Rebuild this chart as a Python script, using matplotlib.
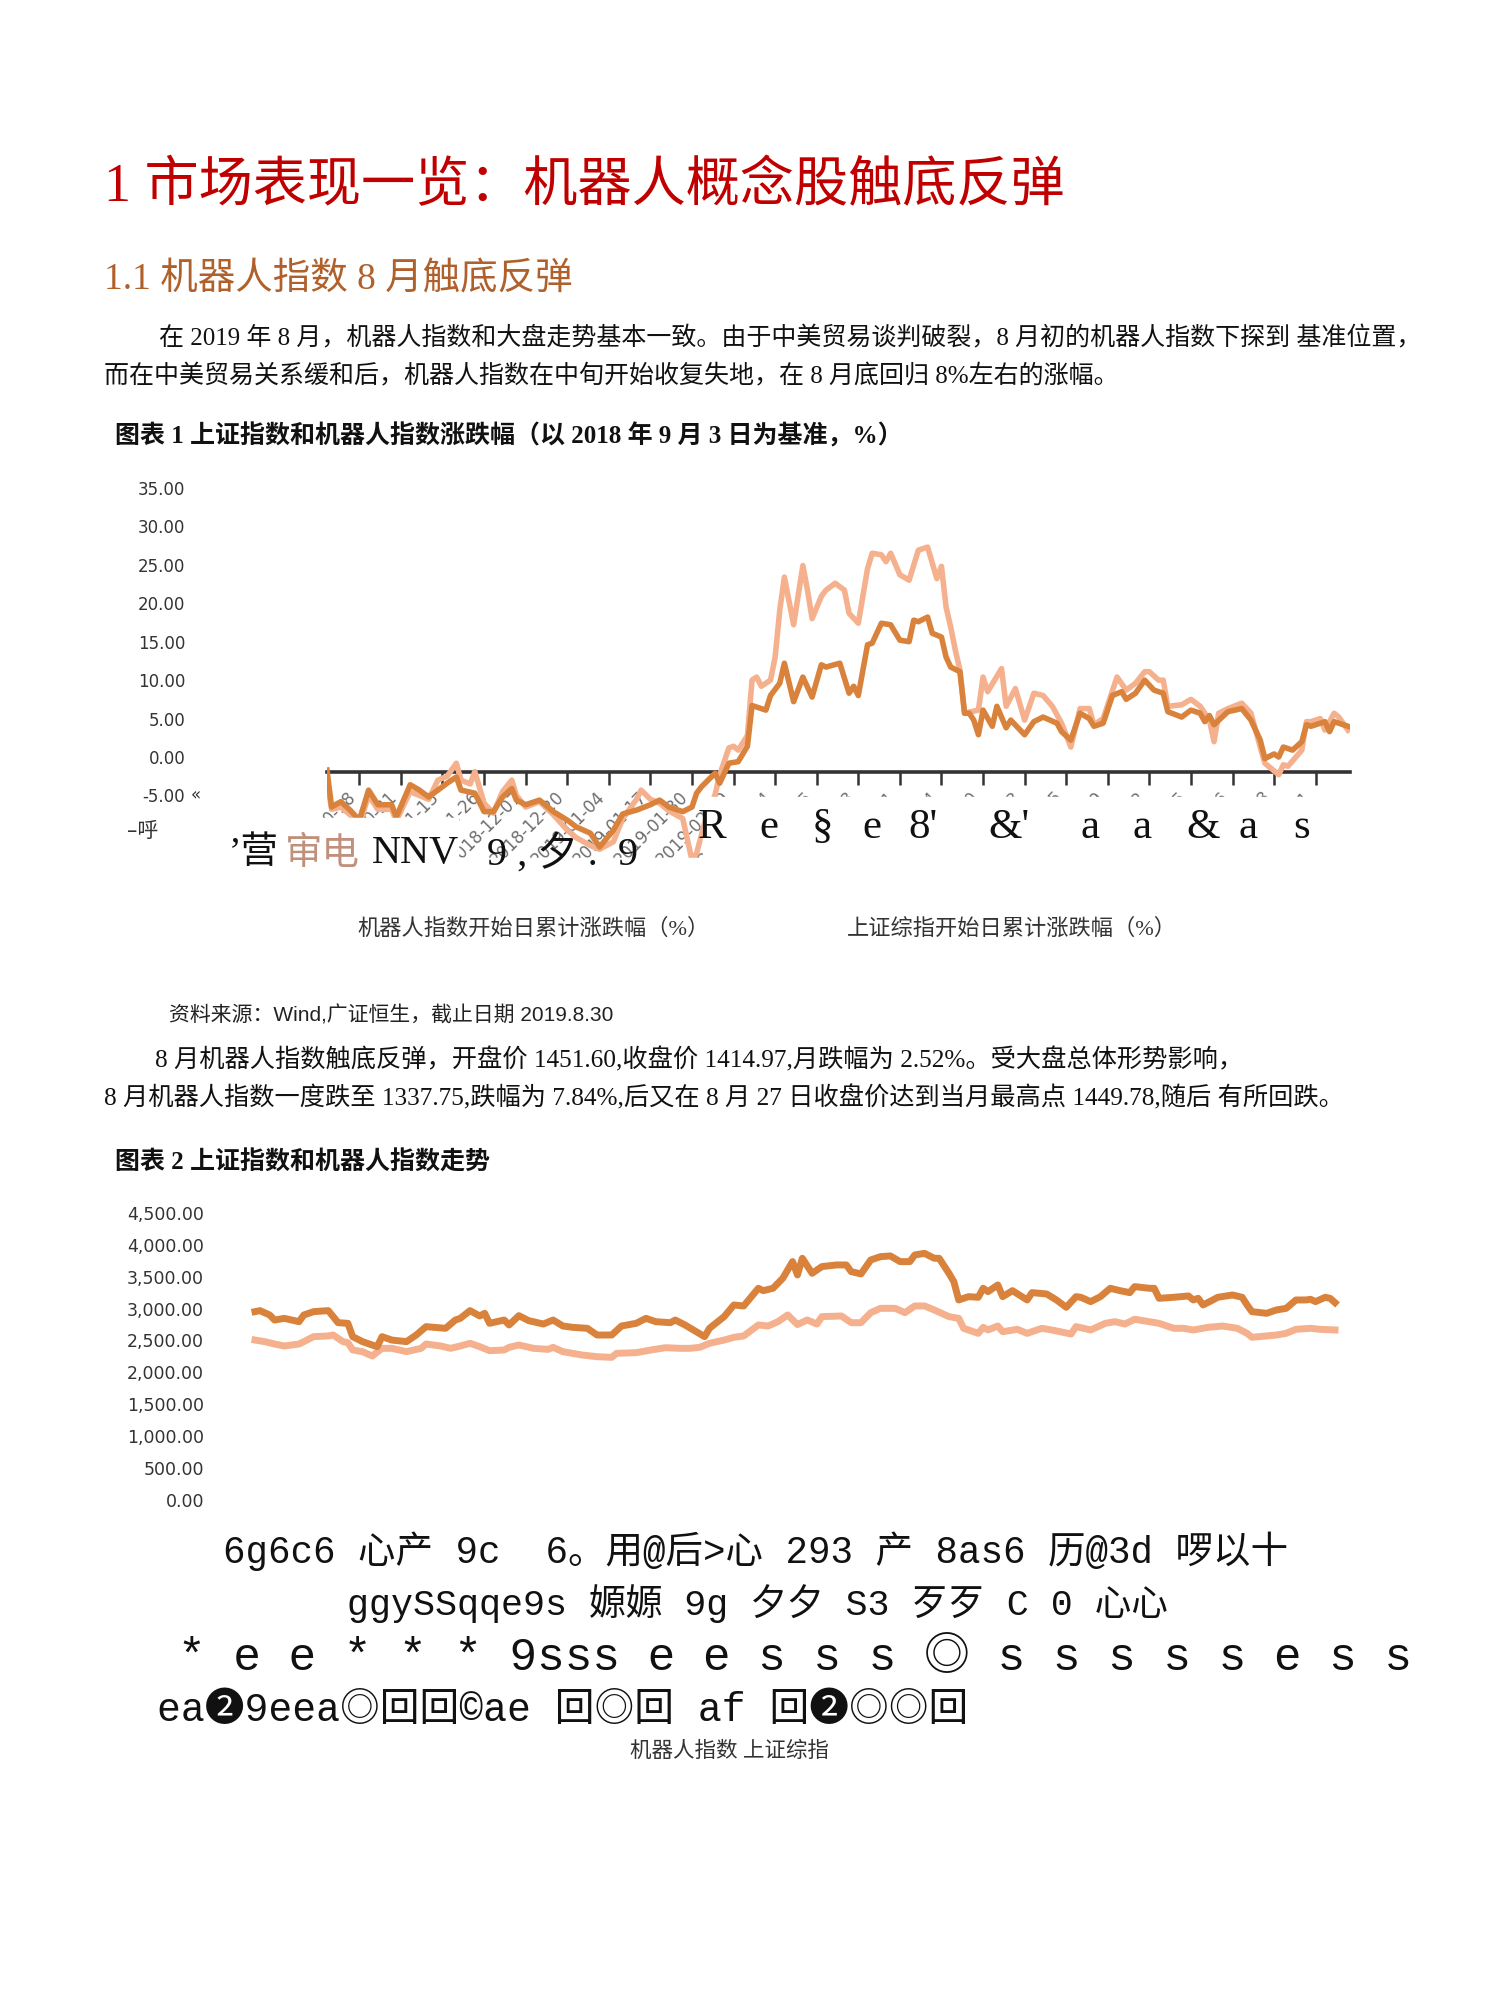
import matplotlib
matplotlib.use('Agg')
import matplotlib.pyplot as plt
from matplotlib.patches import Rectangle

W, H = 1501, 1998

# 图表1：横轴刻度（每 9 个交易日一个）
tick_days = list(range(7, 215, 9))
tick_dates = ['2018-10-18', '2018-10-31', '2018-11-13', '2018-11-26', '2018-12-07',
              '2018-12-20', '2019-01-04', '2019-01-17', '2019-01-30', '2019-02-19',
              '2019-03-04', '2019-03-15', '2019-03-28', '2019-04-11', '2019-04-24',
              '2019-05-10', '2019-05-23', '2019-06-05', '2019-06-19', '2019-07-02',
              '2019-07-15', '2019-07-26', '2019-08-08', '2019-08-21']
y1_ticks = [35, 30, 25, 20, 15, 10, 5, 0, -5]

# 图表1：深色线（交易日序号, 累计涨跌幅 %）
dark1_days = [0, 1, 3, 5, 7, 9, 11, 14, 15, 18,
              20, 22, 24, 26, 28, 29, 32, 34, 36, 38,
              40, 41, 43, 46, 49, 52, 54, 57, 59, 62,
              64, 67, 70, 72, 74, 77, 79, 80, 81, 84,
              85, 87, 89, 91, 92, 94, 95, 96, 98, 99,
              101, 103, 105, 107, 108, 111, 113, 114, 115, 117,
              118, 120, 122, 124, 126, 127, 128, 130, 131, 133,
              134, 135, 137, 138, 139, 140, 141, 142, 144, 145,
              147, 148, 151, 153, 155, 158, 159, 161, 163, 165,
              166, 168, 170, 172, 173, 175, 177, 179, 181, 182,
              185, 187, 189, 190, 191, 192, 195, 198, 200, 202,
              203, 205, 206, 207, 209, 211, 212, 213, 216, 217,
              218, 221]
dark1_pct = [-1.7, -6.5, -5.8, -6.9, -8.2, -4.3, -6.2, -6.2, -7.8, -3.6,
             -4.3, -5.2, -4.3, -3.4, -2.6, -4.3, -4.7, -7.1, -7.1, -5.2,
             -4.1, -5.6, -6.2, -5.6, -7.1, -8.2, -9.1, -9.9, -11.7, -9.5,
             -7.4, -6.9, -6.2, -5.6, -6.5, -7.1, -6.5, -4.7, -3.9, -2.1,
             -3.4, -0.8, -0.6, 1.4, 6.7, 6.3, 6.1, 8.0, 9.6, 12.2,
             7.2, 10.4, 7.8, 12.0, 11.7, 12.2, 8.3, 9.2, 8.0, 14.6,
             14.8, 17.4, 17.2, 15.2, 15.0, 17.8, 17.6, 18.2, 16.1, 15.6,
             13.0, 11.7, 11.1, 5.7, 5.7, 4.8, 2.9, 6.1, 4.0, 6.6,
             3.8, 4.8, 2.9, 4.6, 5.2, 4.4, 3.3, 2.2, 5.7, 5.0,
             4.0, 4.4, 8.0, 8.5, 7.5, 8.3, 10.0, 8.7, 8.3, 5.9,
             5.2, 6.1, 5.7, 4.6, 5.4, 4.2, 5.9, 6.3, 4.8, 2.2,
             -0.2, 0.4, 0.0, 1.3, 0.9, 2.0, 4.2, 4.0, 4.6, 3.3,
             4.6, 4.0]

# 图表1：浅色线
light1_days = [0, 1, 3, 5, 7, 9, 11, 14, 15, 18,
               20, 22, 24, 26, 28, 29, 31, 32, 34, 36,
               38, 40, 41, 43, 46, 49, 52, 54, 57, 59,
               62, 64, 67, 68, 70, 72, 74, 77, 79, 80,
               82, 84, 85, 87, 88, 89, 91, 92, 93, 94,
               96, 97, 98, 99, 101, 103, 104, 105, 107, 108,
               110, 112, 113, 115, 117, 118, 120, 121, 122, 124,
               126, 128, 130, 132, 133, 134, 135, 136, 137, 138,
               141, 142, 143, 146, 147, 149, 151, 153, 155, 157,
               159, 161, 163, 165, 166, 168, 171, 173, 175, 177,
               178, 180, 181, 182, 185, 187, 189, 191, 192, 193,
               195, 198, 200, 202, 203, 206, 207, 208, 211, 212,
               213, 215, 216, 218, 219, 221]
light1_pct = [-3.0, -6.8, -6.5, -7.5, -8.8, -5.0, -6.8, -6.8, -8.3, -4.5,
              -5.0, -5.5, -3.0, -2.5, -0.8, -3.0, -3.5, -1.9, -6.0, -7.3,
              -4.5, -3.0, -5.0, -6.5, -5.8, -7.5, -9.5, -10.5, -11.5, -12.0,
              -11.0, -8.0, -5.5, -4.3, -5.5, -6.0, -7.0, -8.0, -13.4, -12.5,
              -8.0, -4.9, -2.3, 1.2, 1.4, 0.9, 2.8, 10.0, 10.4, 9.2,
              10.0, 13.0, 19.1, 23.4, 17.2, 24.9, 21.7, 18.0, 20.9, 21.7,
              22.6, 21.7, 18.7, 17.4, 24.5, 26.5, 26.3, 25.4, 26.5, 23.7,
              23.0, 26.9, 27.3, 23.2, 24.8, 19.5, 16.9, 13.9, 11.3, 5.7,
              6.1, 10.4, 8.5, 11.5, 6.6, 8.9, 4.8, 8.3, 8.0, 6.6,
              4.4, 1.3, 6.3, 6.3, 4.2, 5.0, 10.4, 8.7, 9.6, 11.1,
              11.1, 10.0, 10.0, 6.6, 6.8, 7.5, 6.6, 4.8, 2.0, 5.7,
              6.3, 7.0, 5.7, 1.3, -0.8, -2.3, -1.0, -1.2, 0.9, 4.6,
              4.6, 5.0, 3.5, 5.7, 5.2, 3.5]

# 图表2：指数走势
y2_ticks = [4500, 4000, 3500, 3000, 2500, 2000, 1500, 1000, 500, 0]
dark2_days = [0, 1, 3, 4, 6, 9, 10, 12, 15, 16,
              17, 19, 20, 22, 24, 25, 26, 28, 31, 33,
              35, 39, 41, 42, 44, 46, 47, 48, 51, 52,
              54, 56, 59, 61, 63, 65, 68, 70, 73, 75,
              78, 80, 82, 85, 86, 88, 92, 93, 96, 98,
              100, 103, 104, 106, 108, 110, 111, 112, 114, 116,
              119, 121, 122, 124, 126, 128, 130, 132, 134, 135,
              137, 139, 140, 142, 143, 144, 146, 148, 149, 150,
              152, 153, 155, 158, 159, 162, 164, 166, 168, 169,
              171, 173, 175, 177, 179, 180, 183, 184, 185, 188,
              191, 192, 193, 194, 196, 197, 200, 202, 203, 204,
              207, 209, 211, 213, 215, 216, 217, 219, 220, 221]
dark2_val = [2952, 2968, 2900, 2821, 2847, 2795, 2900, 2952, 2968, 2874,
             2779, 2769, 2560, 2482, 2429, 2403, 2560, 2507, 2482, 2586,
             2717, 2691, 2821, 2847, 2968, 2884, 2926, 2769, 2821, 2743,
             2889, 2811, 2758, 2821, 2727, 2706, 2691, 2586, 2586, 2727,
             2769, 2847, 2795, 2779, 2821, 2743, 2560, 2691, 2874, 3057,
             3041, 3318, 3281, 3318, 3475, 3736, 3527, 3788, 3553, 3658,
             3684, 3684, 3579, 3543, 3762, 3814, 3825, 3736, 3736, 3840,
             3866, 3788, 3788, 3553, 3422, 3135, 3187, 3177, 3318, 3266,
             3370, 3187, 3281, 3135, 3250, 3229, 3135, 3020, 3187, 3177,
             3109, 3187, 3318, 3281, 3250, 3344, 3318, 3318, 3161, 3177,
             3198, 3135, 3161, 3057, 3135, 3177, 3213, 3177, 3057, 2952,
             2926, 2978, 3004, 3135, 3135, 3145, 3109, 3177, 3161, 3093]
light2_days = [0, 2, 4, 6, 9, 10, 12, 15, 16, 18,
               19, 20, 22, 24, 26, 28, 31, 34, 35, 38,
               40, 42, 44, 46, 48, 51, 52, 54, 57, 60,
               61, 63, 67, 70, 73, 74, 78, 81, 84, 87,
               89, 91, 93, 96, 98, 100, 103, 105, 107, 109,
               111, 113, 115, 116, 120, 122, 124, 126, 128, 131,
               133, 135, 137, 139, 142, 144, 145, 148, 149, 150,
               152, 153, 156, 158, 161, 163, 167, 168, 171, 174,
               176, 178, 180, 183, 185, 188, 190, 192, 195, 198,
               201, 203, 204, 207, 209, 211, 213, 216, 218, 221]
light2_val = [2507, 2482, 2445, 2414, 2445, 2482, 2560, 2571, 2586, 2482,
              2466, 2351, 2325, 2257, 2377, 2377, 2325, 2377, 2445, 2414,
              2377, 2414, 2456, 2403, 2340, 2351, 2393, 2429, 2377, 2361,
              2393, 2325, 2272, 2246, 2236, 2299, 2309, 2351, 2387, 2377,
              2377, 2393, 2456, 2507, 2550, 2571, 2743, 2727, 2795, 2900,
              2750, 2821, 2758, 2874, 2884, 2779, 2779, 2936, 3004, 3004,
              2936, 3041, 3041, 2978, 2874, 2847, 2691, 2612, 2706, 2665,
              2727, 2638, 2675, 2612, 2691, 2665, 2602, 2717, 2665, 2769,
              2795, 2758, 2832, 2795, 2769, 2691, 2691, 2665, 2706, 2727,
              2691, 2612, 2550, 2571, 2586, 2612, 2675, 2691, 2675, 2665]

DARK = '#d9823c'
LIGHT = '#f5b08e'
SERIF = ['Liberation Serif', 'Noto Sans CJK SC']
MONO = ['Liberation Mono', 'Noto Sans CJK SC', 'DejaVu Sans']

plt.rcParams['font.family'] = ['DejaVu Sans', 'Noto Sans CJK SC']

fig = plt.figure(figsize=(W / 100, H / 100), dpi=100)
fig.patch.set_facecolor('white')


def put(x, y, s, size, color='#111111', family=SERIF, weight='normal', ha='left'):
    # x, y 为页面像素位置（文字竖直居中）
    fig.text(x / W, 1 - y / H, s, fontsize=size, color=color, family=family,
             weight=weight, ha=ha, va='center', zorder=10)


# ---- 正文 ----
put(104, 187, '1 市场表现一览：机器人概念股触底反弹', 39, color='#c00000')
put(104, 280, '1.1 机器人指数 8 月触底反弹', 27, color='#b0602a')
put(159, 338, '在 2019 年 8 月，机器人指数和大盘走势基本一致。由于中美贸易谈判破裂，8 月初的机器人指数下探到 基准位置，', 18)
put(104, 376, '而在中美贸易关系缓和后，机器人指数在中旬开始收复失地，在 8 月底回归 8%左右的涨幅。', 18)
put(115, 436, '图表 1 上证指数和机器人指数涨跌幅（以 2018 年 9 月 3 日为基准，%）', 18, weight='bold')

# ---- 图表1 ----
ax1 = fig.add_axes([327 / W, 1 - 872.4 / H, 1023 / W, 399.9 / H])
ax1.patch.set_alpha(0)
ax1.plot(light1_days, light1_pct, color=LIGHT, lw=4, zorder=3)
ax1.plot(dark1_days, dark1_pct, color=DARK, lw=4, zorder=4)
ax1.set_xlim(0, 221.43)
ax1.set_ylim(-15, 37)
for s in ['top', 'right', 'left']:
    ax1.spines[s].set_visible(False)
ax1.spines['bottom'].set_position(('data', -2))
ax1.spines['bottom'].set_color('#333333')
ax1.spines['bottom'].set_linewidth(2.6)
ax1.set_xticks(tick_days)
ax1.set_xticklabels(tick_dates, rotation=45, ha='right', color='#6e6e6e', fontsize=12)
ax1.tick_params(axis='x', direction='out', length=9, width=1.8, color='#333333', pad=2)
ax1.set_yticks(y1_ticks)
ax1.set_yticklabels(['%.2f' % v for v in y1_ticks])
ax1.tick_params(axis='y', length=0, pad=102, labelsize=12, labelcolor='#333333')

put(191, 795, '«', 12, color='#333333', family=['DejaVu Sans'])
put(127, 831, '–呼', 15, color='#333333', family=['DejaVu Sans', 'Noto Sans CJK SC'])

# 白色遮挡块（原图中被截断的部分）
for x0, y0, x1, y1 in [(205, 818, 458, 905), (458, 858, 703, 905), (703, 797, 1360, 905)]:
    fig.patches.append(Rectangle((x0 / W, 1 - y1 / H), (x1 - x0) / W, (y1 - y0) / H,
                                 transform=fig.transFigure, color='white', zorder=8))

put(229, 854, '’营', 27)
put(285, 854, '审电', 27, color='#c0907c')
put(372, 854, 'NNV', 29)
put(487, 854, '9 , 夕 .  9', 29)

# 错位的字符行
glyphs = ['R', 'e', '§', 'e', "8'", "&'", 'a', 'a', '&', 'a', 's']
glyph_x = [698, 759, 812, 862, 908, 988, 1080, 1132, 1186, 1238, 1293]
for gx, g in zip(glyph_x, glyphs):
    put(gx, 828, g, 31, family=['Liberation Serif', 'DejaVu Serif'])

put(357, 929, '机器人指数开始日累计涨跌幅（%）', 16, color='#333333')
put(847, 929, '上证综指开始日累计涨跌幅（%）', 16, color='#333333')

put(169, 1015, '资料来源：Wind,广证恒生，截止日期 2019.8.30', 15, color='#222222',
    family=['Liberation Sans', 'Noto Sans CJK SC'])
put(155, 1060, '8 月机器人指数触底反弹，开盘价 1451.60,收盘价 1414.97,月跌幅为 2.52%。受大盘总体形势影响，', 18.2)
put(104, 1098, '8 月机器人指数一度跌至 1337.75,跌幅为 7.84%,后又在 8 月 27 日收盘价达到当月最高点 1449.78,随后 有所回跌。', 18.2)
put(115, 1163, '图表 2 上证指数和机器人指数走势', 18, weight='bold')

# ---- 图表2 ----
ax2 = fig.add_axes([250 / W, 1 - 1509.6 / H, 1090 / W, 309.5 / H])
ax2.patch.set_alpha(0)
ax2.plot(light2_days, light2_val, color=LIGHT, lw=5, zorder=3)
ax2.plot(dark2_days, dark2_val, color=DARK, lw=5, zorder=4)
ax2.set_xlim(-1.02, 222.02)
ax2.set_ylim(-150, 4700)
for s in ax2.spines.values():
    s.set_visible(False)
ax2.set_xticks([])
ax2.set_yticks(y2_ticks)
ax2.set_yticklabels(['{:,.2f}'.format(v) for v in y2_ticks])
ax2.tick_params(axis='y', length=0, pad=33, labelsize=12.5, labelcolor='#333333')

put(223, 1551, '6g6c6 心产 9c  6。用@后>心 293 产 8as6 历@3d 啰以十', 27, family=MONO)
put(347, 1604, 'ggySSqqe9s 嫄嫄 9g 夕夕 S3 歹歹 C 0 心心', 26.4, family=MONO)
put(178, 1658, '* e e * * * 9sss e e s s s ◎ s s s s s e s s', 33.2, family=MONO)
put(157, 1710, 'ea❷9eea◎回回©ae 回◎回 af 回❷◎◎回', 28.6, family=MONO)
put(729, 1752, '机器人指数 上证综指', 15.5, color='#333333', ha='center')

fig.savefig('out.png', dpi=100, facecolor='white')
